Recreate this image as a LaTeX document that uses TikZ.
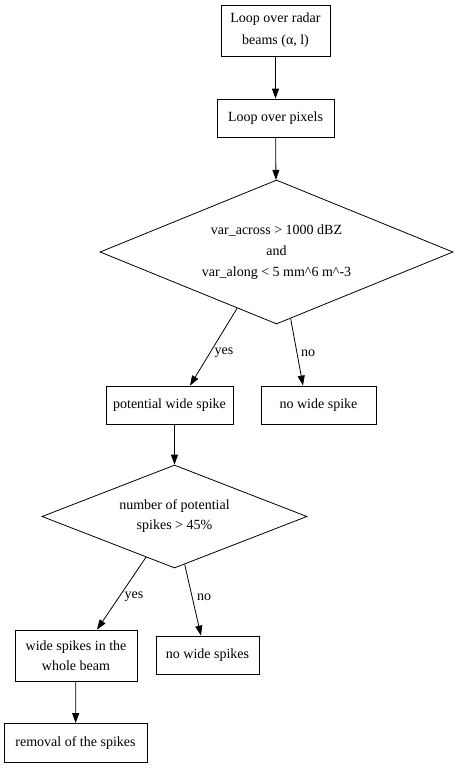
\documentclass[tikz,border=0pt]{standalone}
\usepackage{fontspec}
\setmainfont{Liberation Serif}
\usetikzlibrary{shapes.geometric,arrows.meta}
\begin{document}
\begin{tikzpicture}[x=1pt,y=-1pt,
  every node/.style={font=\fontsize{14}{20}\selectfont},
  box/.style={draw,line width=0.8pt,inner sep=0pt,align=center},
  dia/.style={draw,line width=0.8pt,diamond,inner sep=0pt,align=center},
  lab/.style={inner sep=0pt},
  arr/.style={line width=0.8pt,-{Triangle[length=10pt,width=7pt]}}]
\useasboundingbox (0,0) rectangle (457,768);
\node[box,minimum width=109pt,minimum height=51pt,font=\fontsize{14}{22}\selectfont] (n1) at (275.5,30.5) {Loop over radar\\beams (α, l)};
\node[box,minimum width=117pt,minimum height=38pt] (n2) at (275.5,118) {Loop over pixels};
\node[dia,aspect=2.45,minimum width=353pt,minimum height=144pt,font=\fontsize{14}{21}\selectfont] (d1) at (276.5,252) {var\_across > 1000 dBZ\\and\\var\_along < 5 mm\^{}6 m\^{}-3};
\node[box,minimum width=127pt,minimum height=38pt] (n3) at (169.5,405) {potential wide spike};
\node[box,minimum width=115pt,minimum height=38pt] (n4) at (318.5,405) {no wide spike};
\node[dia,aspect=2.57,minimum width=265pt,minimum height=103pt] (d2) at (174.5,516.5) {number of potential\\spikes > 45\%};
\node[box,minimum width=122pt,minimum height=51pt] (n5) at (76,655.5) {wide spikes in the\\whole beam};
\node[box,minimum width=103pt,minimum height=38pt] (n6) at (207.5,655) {no wide spikes};
\node[box,minimum width=143pt,minimum height=39pt] (n7) at (75.5,743) {removal of the spikes};
\draw[arr] (n1) -- (n2);
\draw[arr] (n2) -- (d1);
\draw[arr] (d1.235) -- ([xshift=20.5pt]n3.north);
\draw[arr] (d1.282) -- ([xshift=-15.5pt]n4.north);
\draw[arr] ([xshift=5pt]n3.south) -- (d2.north);
\draw[arr] (d2.235) -- ([xshift=21pt]n5.north);
\draw[arr] (d2.282) -- ([xshift=-6.5pt]n6.north);
\draw[arr] (n5) -- (n7);
\node[lab] (l1) at (224,353) {yes};
\node[lab] (l2) at (308,353) {no};
\node[lab] (l3) at (134,597) {yes};
\node[lab] (l4) at (204,597) {no};
\end{tikzpicture}
\end{document}
